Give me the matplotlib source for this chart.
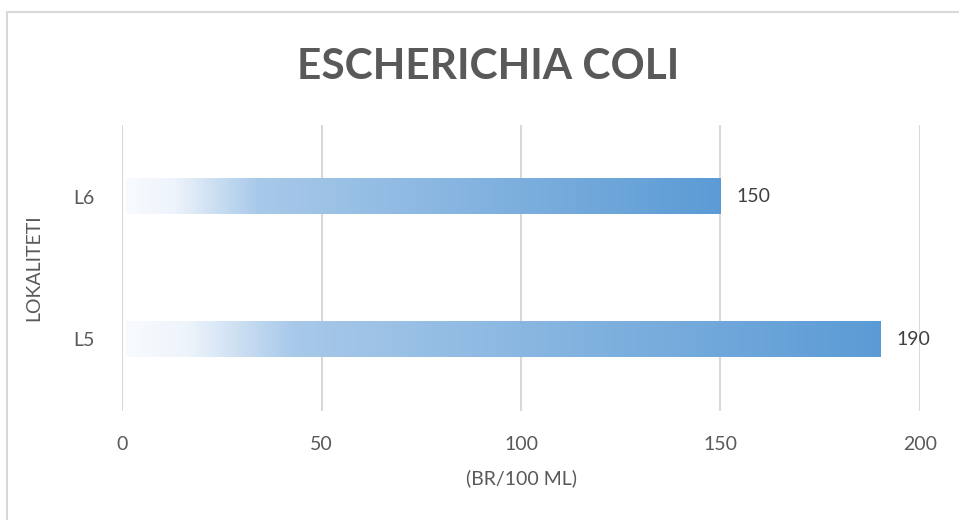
import matplotlib.pyplot as plt
import numpy as np
from matplotlib.colors import LinearSegmentedColormap
from matplotlib.patches import Rectangle

# chart data
locations = ['L5', 'L6']
counts = [190, 150]
x_ticks = [0, 50, 100, 150, 200]

title = 'ESCHERICHIA COLI'
x_label = '(BR/100 ML)'
y_label = 'LOKALITETI'

plt.rcParams['font.family'] = ['Lato', 'DejaVu Sans']

fig = plt.figure(figsize=(9.59, 5.2), dpi=100)
ax = fig.add_axes([122 / 959, 109 / 520, 798 / 959, 286 / 520])

# light frame around the chart area (as in the original export)
fig.patches.append(Rectangle((7 / 959, -0.05), 1.2, (520 - 12) / 520 + 0.05,
                             transform=fig.transFigure, fill=False,
                             edgecolor='#d9d9d9', linewidth=1.5, zorder=0))

# white -> blue gradient, like the Office gradient fill
cmap = LinearSegmentedColormap.from_list(
    'bar_grad', [(0.0, '#f8fbfe'), (0.08, '#eef4fb'), (0.22, '#a8c9e9'), (1.0, '#5b9bd5')])
grad = np.linspace(0, 1, 256).reshape(1, -1)

bar_h = 0.25
for i, val in enumerate(counts):
    ax.imshow(grad, cmap=cmap, aspect='auto', interpolation='bilinear',
              extent=[1, val, i - bar_h / 2, i + bar_h / 2], zorder=2)
    ax.text(val + 4, i, str(val), va='center', ha='left', fontsize=14, color='#404040')

ax.set_xlim(0, 200)
ax.set_ylim(-0.5, 1.5)
ax.set_xticks(x_ticks)
ax.set_yticks(range(len(locations)))
ax.set_yticklabels(locations)

ax.grid(axis='x', color='#d9d9d9', linewidth=1.5, zorder=0)
ax.set_axisbelow(True)
for s in ax.spines.values():
    s.set_visible(False)
ax.tick_params(length=0, labelsize=14, colors='#595959', pad=18)
ax.tick_params(axis='y', pad=20)

ax.set_xlabel(x_label, fontsize=14, color='#595959', labelpad=12)
ax.set_ylabel(y_label, fontsize=14, color='#595959', labelpad=22)

fig.text(488 / 959, 0.872, title, ha='center', va='center', fontsize=30.5,
         fontweight='bold', color='#595959')

plt.savefig('out.png', dpi=100)
plt.close()
